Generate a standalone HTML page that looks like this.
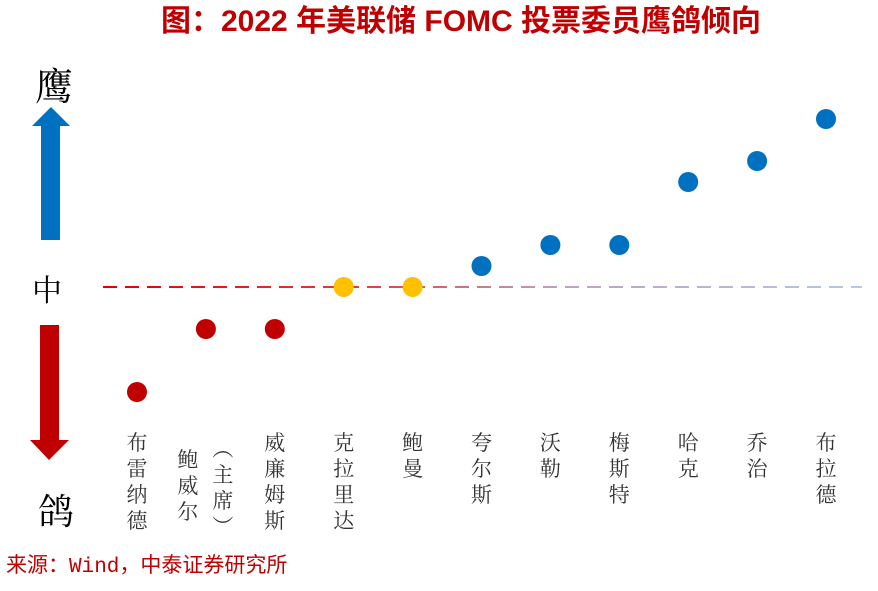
<!DOCTYPE html>
<html><head><meta charset="utf-8"><style>
body{margin:0;background:#fff;}
svg text{font-family:"Liberation Serif","Noto Serif CJK SC",serif;}
</style></head><body>
<svg width="878" height="586" viewBox="0 0 878 586" xmlns="http://www.w3.org/2000/svg">
<defs><linearGradient id="lg" gradientUnits="userSpaceOnUse" x1="103" y1="0" x2="862" y2="0"><stop offset="0" stop-color="#E00000"/><stop offset="0.35" stop-color="#E04040"/><stop offset="0.6" stop-color="#C0A0C0"/><stop offset="1" stop-color="#B4C8E4"/></linearGradient></defs>
<text x="461" y="31" text-anchor="middle" font-size="30" font-weight="bold" fill="#C00000" style="font-family:'Liberation Sans','Noto Sans CJK SC',sans-serif">图：2022 年美联储 FOMC 投票委员鹰鸽倾向</text>
<text x="54" y="100" text-anchor="middle" font-size="38" fill="#000">鹰</text>
<polygon points="41,240 60,240 60,126 70,126 51,107 32,126 41,126" fill="#0070C0"/>
<text x="47" y="301" text-anchor="middle" font-size="30" fill="#000">中</text>
<polygon points="40,325 59,325 59,440 69,440 49,460 30,440 40,440" fill="#C00000"/>
<text x="56" y="524" text-anchor="middle" font-size="36" fill="#000">鸽</text>
<line x1="103" y1="287" x2="862" y2="287" stroke="url(#lg)" stroke-width="2" stroke-dasharray="14,8"/>
<g id="pts"></g>
<g id="lbls"></g>
<text x="6" y="572" font-size="21" fill="#C00000" style="font-family:'Liberation Mono','Noto Sans CJK SC',monospace">来源：Wind，中泰证券研究所</text>
</svg>
<script>
const names=["布雷纳德","鲍威尔（主席）","威廉姆斯","克拉里达","鲍曼","夸尔斯","沃勒","梅斯特","哈克","乔治","布拉德"];
const scores=[-5,-2,-2,0,0,1,2,2,5,6,8];
const NS="http://www.w3.org/2000/svg";
const x=i=>137+i*68.9;
const y=v=>287-v*21;
const col=v=>v<0?"#C00000":(v===0?"#FFC000":"#0070C0");
const pg=document.getElementById('pts'),lg=document.getElementById('lbls');
scores.forEach((v,i)=>{
 const c=document.createElementNS(NS,'circle');
 c.setAttribute('cx',x(i));c.setAttribute('cy',y(v));c.setAttribute('r',10);c.setAttribute('fill',col(v));
 
 
 pg.appendChild(c);
});
function col1(str,cx,top,i){
 const t=document.createElementNS(NS,'text');
 t.setAttribute('font-size','21');t.setAttribute('fill','#333');t.setAttribute('text-anchor','middle');
 [...str].forEach((ch,k)=>{
  const s=document.createElementNS(NS,'tspan');
  s.setAttribute('x',cx);s.setAttribute('y',top+20+k*26);
  if(ch==='（'||ch==='）'){s.textContent=ch==='（'?'︵':'︶';}else s.textContent=ch;
  t.appendChild(s);
 });
 
 
 lg.appendChild(t);
}
names.forEach((n,i)=>{
 if(n.indexOf('（')>=0){
  const a=n.split('（');
  col1(a[0],x(i)-18,447,i);
  col1('（'+a[1],x(i)+17,436,i);
 } else col1(n,x(i),430,i);
});
</script>
</body></html>
